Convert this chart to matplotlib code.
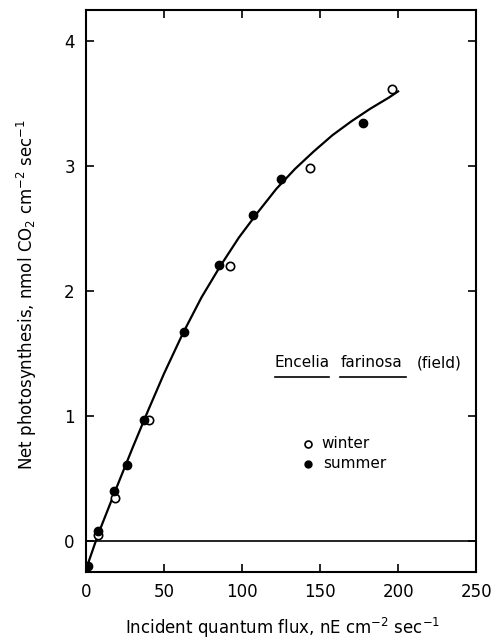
import matplotlib.pyplot as plt

summer_x = [1.5, 8, 17.7, 26, 37.4, 62.6, 85.5, 107.3, 125, 177.4]
summer_y = [-0.2, 0.08, 0.40, 0.61, 0.97, 1.67, 2.21, 2.61, 2.90, 3.35]
winter_x = [8, 18.4, 40.6, 92.5, 143.8, 196]
winter_y = [0.05, 0.34, 0.97, 2.2, 2.99, 3.62]

# fitted curve
curve_x = [0.5, 8, 20, 30, 40, 50, 62, 74, 86, 98, 110, 122, 134, 146, 158, 170,
           182, 194, 200]
curve_y = [-0.21, 0.06, 0.44, 0.75, 1.05, 1.34, 1.66, 1.95, 2.20, 2.43, 2.63, 2.82,
           2.98, 3.12, 3.25, 3.36, 3.46, 3.55, 3.60]

xticks = [0, 50, 100, 150, 200, 250]
yticks = [0, 1, 2, 3, 4]

fig = plt.figure(figsize=(4.97, 6.4), dpi=100)
ax = fig.add_axes([0.173, 0.106, 0.785, 0.878])

ax.axhline(0, color='black', lw=1.2)
ax.plot(curve_x, curve_y, color='black', lw=1.6)
ax.plot(winter_x, winter_y, 'o', ms=6, mfc='white', mec='black', mew=1.2)
ax.plot(summer_x, summer_y, 'o', ms=6, mfc='black', mec='black')

ax.set_xlim(0, 250)
ax.set_ylim(-0.25, 4.25)
ax.set_xticks(xticks)
ax.set_yticks(yticks)
ax.tick_params(direction='in', top=True, right=True, length=6, width=1.2,
               labelsize=12, pad=8)
for s in ax.spines.values():
    s.set_linewidth(1.5)

fig.text(0.569, 1 - 628 / 640, r'Incident quantum flux, nE cm$^{-2}$ sec$^{-1}$',
         fontsize=12, ha='center', va='center')
fig.text(27 / 497, 1 - 295 / 640, r'Net photosynthesis, nmol CO$_2$ cm$^{-2}$ sec$^{-1}$',
         fontsize=12, ha='center', va='center', rotation=90)

# species label with underlined names
ax.text(121, 1.39, 'Encelia', fontsize=11, va='baseline')
ax.text(163, 1.39, 'farinosa', fontsize=11, va='baseline')
ax.text(212, 1.39, '(field)', fontsize=11, va='baseline')
ax.plot([121, 156], [1.31, 1.31], color='black', lw=1.2)
ax.plot([163, 205], [1.31, 1.31], color='black', lw=1.2)

# legend
ax.plot([142], [0.78], 'o', ms=5, mfc='white', mec='black', mew=1.2)
ax.plot([142], [0.62], 'o', ms=5, mfc='black', mec='black')
ax.text(151, 0.78, 'winter', fontsize=11, va='center')
ax.text(152, 0.62, 'summer', fontsize=11, va='center')

fig.savefig('out.png', dpi=100)
